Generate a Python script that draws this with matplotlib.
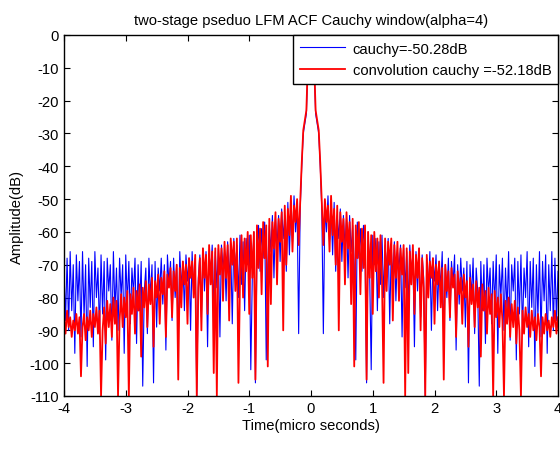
import numpy as np
import matplotlib
matplotlib.use("Agg")
import matplotlib.pyplot as plt

plt.rcParams['font.family'] = ['Liberation Sans', 'DejaVu Sans']
plt.rcParams['axes.unicode_minus'] = False

# Time step of the half-axis samples (micro seconds); the ACF is symmetric about 0
time_half = [round(i * 0.025, 3) for i in range(161)]

cauchy_half = [
    0, -3, -9, -24, -27, -30, -40, -53, -91, -52,
    -60, -49, -63, -52, -67, -51, -72, -55, -62, -53,
    -69, -55, -64, -56, -74, -55, -66, -58, -70, -99,
    -57, -68, -59, -72, -58, -66, -106, -60, -73, -102,
    -61, -70, -62, -84, -63, -76, -61, -80, -64, -72,
    -62, -88, -65, -74, -63, -81, -66, -71, -64, -92,
    -65, -77, -66, -83, -64, -73, -67, -95, -66, -78,
    -65, -86, -67, -74, -110, -68, -79, -66, -90, -68,
    -75, -67, -84, -69, -77, -66, -93, -70, -80, -68,
    -87, -69, -76, -67, -96, -70, -82, -68, -78, -71,
    -89, -69, -106, -70, -80, -68, -91, -71, -78, -107,
    -69, -84, -70, -94, -68, -79, -71, -88, -69, -82,
    -67, -97, -70, -80, -68, -90, -71, -84, -66, -93,
    -70, -78, -68, -99, -69, -85, -67, -91, -71, -80,
    -66, -95, -69, -83, -68, -101, -70, -86, -66, -92,
    -69, -81, -67, -97, -70, -84, -66, -90, -68, -87,
    -72,
]

conv_half = [
    0, -2, -8, -23, -26, -29, -39, -51, -64, -50,
    -57, -52, -66, -49, -61, -53, -70, -52, -90, -54,
    -63, -56, -76, -54, -65, -57, -82, -56, -101, -58,
    -68, -57, -79, -59, -71, -58, -105, -60, -74, -61,
    -85, -60, -72, -62, -80, -61, -75, -106, -62, -78,
    -63, -70, -62, -87, -64, -74, -63, -81, -65, -73,
    -64, -110, -65, -103, -66, -76, -64, -85, -67, -74,
    -65, -90, -68, -77, -110, -67, -80, -69, -74, -68,
    -88, -70, -76, -69, -83, -71, -105, -70, -78, -72,
    -86, -71, -77, -73, -92, -72, -79, -74, -88, -73,
    -80, -75, -95, -74, -82, -76, -89, -75, -83, -77,
    -98, -76, -84, -78, -91, -77, -85, -79, -110, -78,
    -86, -80, -89, -79, -87, -110, -81, -88, -80, -92,
    -82, -89, -81, -94, -83, -90, -110, -84, -91, -83,
    -89, -85, -92, -84, -90, -86, -93, -85, -89, -104,
    -86, -91, -85, -90, -87, -92, -86, -89, -84, -91,
    -86,
]

label_cauchy = 'cauchy=-50.28dB'
label_conv = 'convolution cauchy =-52.18dB'
title_text = 'two-stage pseduo LFM ACF Cauchy window(alpha=4)'
xticks = [-4, -3, -2, -1, 0, 1, 2, 3, 4]
yticks = list(range(-110, 1, 10))

th = np.array(time_half)
t = np.concatenate([-th[::-1], th[1:]])
b = np.array(cauchy_half, dtype=float)
r = np.array(conv_half, dtype=float)
yb = np.concatenate([b[::-1], b[1:]])
yr = np.concatenate([r[::-1], r[1:]])

fs = 10.6
fig = plt.figure(figsize=(5.6, 4.64), dpi=100)
ax = fig.add_axes([64/560, 1-397/464, (558-64)/560, (397-36)/464])
ax.plot(t, yb, color='#0000ff', lw=0.8, label=label_cauchy)
ax.plot(t, yr, color='#ff0000', lw=1.3, label=label_conv)
ax.set_xlim(-4, 4)
ax.set_ylim(-110, 0)
ax.set_xticks(xticks)
ax.set_yticks(yticks)
ax.tick_params(direction='in', top=True, right=True, length=4, labelsize=fs, width=0.8)
for s in ax.spines.values():
    s.set_linewidth(1.0)
ax.set_title(title_text, fontsize=fs, pad=8)
ax.set_xlabel('Time(micro seconds)', fontsize=fs, labelpad=2)
ax.set_ylabel('Amplitude(dB)', fontsize=fs, labelpad=4)
leg = ax.legend(loc='upper right', fontsize=fs, fancybox=False, framealpha=1,
                edgecolor='black', borderaxespad=0, handlelength=3.1,
                handletextpad=0.5, borderpad=0.45, labelspacing=0.5)
leg.get_frame().set_linewidth(1.0)
fig.savefig('out.png', dpi=100)
